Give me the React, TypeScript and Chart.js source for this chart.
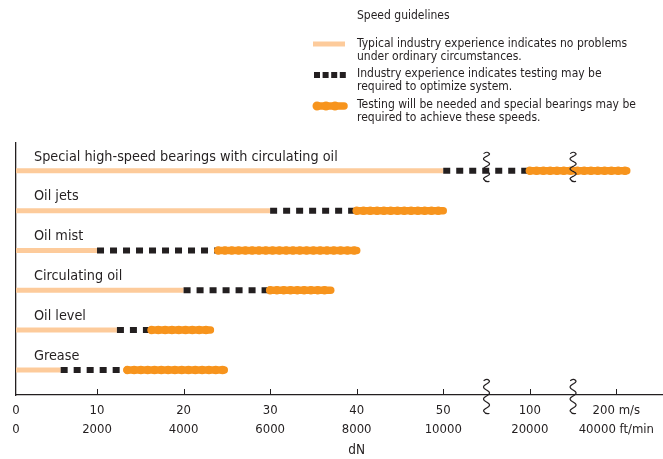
import { useEffect, useRef } from 'react';
import { Chart, registerables } from 'chart.js';

Chart.register(...registerables);

const FONT = "'Liberation Sans Narrow', 'DejaVu Sans Condensed', 'Liberation Sans', Arial, sans-serif";
const INK = '#231F20';
const PEACH = '#FDCB9B';
const ORANGE = '#F7941D';

// Rows from bottom to top
const categories = [
  'Grease',
  'Oil level',
  'Circulating oil',
  'Oil mist',
  'Oil jets',
  'Special high-speed bearings with circulating oil',
];
// Speed limits in m/s (dN scale)
const typicalLimit = [5.8, 12.3, 20, 10, 30, 50];
const testingLimit = [13.5, 16.3, 30, 24, 40, 100];
const specialLimit = [24.7, 23.1, 37, 40, 50, 212];

const msTickValues = [0, 10, 20, 30, 40, 50, 100, 200];
const msTickLabels = ['0', '10', '20', '30', '40', '50', '100', '200 m/s'];
const ftTickLabels = ['0', '2000', '4000', '6000', '8000', '10000', '20000', '40000 ft/min'];
const axisBreaks = [75, 150];

const legendTitle = 'Speed guidelines';
const legendTexts = [
  ['Typical industry experience indicates no problems', 'under ordinary circumstances.'],
  ['Industry experience indicates testing may be', 'required to optimize system.'],
  ['Testing will be needed and special bearings may be', 'required to achieve these speeds.'],
];
const axisTitle = 'dN';

// broken axis: 0-50 linear, 50-100 one step, 100-200 one step
function axisPos(v: number): number {
  if (v <= 50) return v / 10;
  if (v <= 100) return 5 + (v - 50) / 50;
  return 6 + (v - 100) / 100;
}

const X_MIN = 0.064;
const X_MAX = 7.539;
const Y_MIN = 0.37;
const Y_MAX = 6.7;
const LABEL_OFFSET = 0.35;

function squiggle(ctx: CanvasRenderingContext2D, x: number, y0: number, y1: number) {
  ctx.save();
  ctx.strokeStyle = INK;
  ctx.lineWidth = 1.2;
  ctx.lineJoin = 'round';
  ctx.lineCap = 'round';
  ctx.beginPath();
  ctx.moveTo(x - 2.5, y0 + 1.5);
  ctx.quadraticCurveTo(x + 1, y0 - 1, x + 3, y0 + 2);
  const L = y1 - y0 - 4;
  const steps = 60;
  for (let i = 0; i <= steps; i++) {
    const t = i / steps;
    const yy = y0 + 2 + t * L;
    const xx = x + 3 * Math.cos(t * Math.PI * 2 * 2.5);
    ctx.lineTo(xx, yy);
  }
  ctx.quadraticCurveTo(x - 1, y1 + 1.5, x + 2.5, y1 + 0.5);
  ctx.stroke();
  ctx.restore();
}

const decorPlugin = {
  id: 'decor',
  afterDraw(chart: any) {
    const ctx: CanvasRenderingContext2D = chart.ctx;
    const xs = chart.scales.x;
    const ys = chart.scales.y;
    const area = chart.chartArea;
    ctx.save();
    // inward tick marks
    ctx.strokeStyle = INK;
    ctx.lineWidth = 1;
    msTickValues.slice(1).forEach((v) => {
      const px = Math.round(xs.getPixelForValue(axisPos(v))) + 0.5;
      ctx.beginPath();
      ctx.moveTo(px, area.bottom - 6);
      ctx.lineTo(px, area.bottom);
      ctx.stroke();
    });
    // axis breaks
    const topRow = ys.getPixelForValue(categories.length);
    axisBreaks.forEach((b) => {
      const px = xs.getPixelForValue(axisPos(b));
      squiggle(ctx, px, area.bottom - 16, area.bottom + 18);
      squiggle(ctx, px, topRow - 19, topRow + 10);
    });
    // axis title
    ctx.fillStyle = INK;
    ctx.font = `13.5px ${FONT}`;
    ctx.textAlign = 'center';
    ctx.textBaseline = 'middle';
    ctx.fillText(axisTitle, xs.getPixelForValue(4), 450);

    // legend
    ctx.textAlign = 'left';
    ctx.font = `12px ${FONT}`;
    ctx.fillText(legendTitle, 357, 16);
    const rowsY = [44, 74, 105];
    legendTexts.forEach((lines, i) => {
      lines.forEach((ln, j) => ctx.fillText(ln, 357, rowsY[i] + j * 13));
    });
    // swatch 1
    ctx.lineCap = 'butt';
    ctx.strokeStyle = PEACH;
    ctx.lineWidth = 5;
    ctx.beginPath();
    ctx.moveTo(313, 44);
    ctx.lineTo(345, 44);
    ctx.stroke();
    // swatch 2
    ctx.strokeStyle = INK;
    ctx.lineWidth = 6;
    ctx.setLineDash([6, 2.6]);
    ctx.beginPath();
    ctx.moveTo(314, 75);
    ctx.lineTo(346, 75);
    ctx.stroke();
    // swatch 3
    ctx.setLineDash([]);
    ctx.strokeStyle = ORANGE;
    ctx.lineCap = 'round';
    ctx.lineWidth = 7.5;
    ctx.beginPath();
    ctx.moveTo(317, 106);
    ctx.lineTo(344, 106);
    ctx.stroke();
    ctx.lineWidth = 9;
    ctx.setLineDash([0, 9]);
    ctx.beginPath();
    ctx.moveTo(317, 106);
    ctx.lineTo(344, 106);
    ctx.stroke();
    ctx.restore();
  },
};

export default function App() {
  const ref = useRef<HTMLCanvasElement>(null);
  useEffect(() => {
    const canvas = ref.current;
    if (!canvas) return;
    const datasets: any[] = [];
    const common = { pointRadius: 0, pointHoverRadius: 0, fill: false, tension: 0, clip: 0 };
    categories.forEach((cat, i) => {
      const y = i + 1;
      const seg = (s: number, e: number) => [
        { x: axisPos(s), y },
        { x: axisPos(e), y },
      ];
      datasets.push({ ...common, label: cat, data: seg(0, typicalLimit[i]), borderColor: PEACH, borderWidth: 5, borderCapStyle: 'butt', order: 3 });
      datasets.push({ ...common, label: cat, data: seg(typicalLimit[i], testingLimit[i]), borderColor: INK, borderWidth: 6, borderDash: [7, 6], borderCapStyle: 'butt', order: 2 });
      datasets.push({ ...common, label: cat, data: seg(testingLimit[i], specialLimit[i]), borderColor: ORANGE, borderWidth: 7.5, borderCapStyle: 'round', order: 1 });
      datasets.push({ ...common, label: cat, data: seg(testingLimit[i], specialLimit[i]), borderColor: ORANGE, borderWidth: 8.5, borderDash: [0, 6.8], borderCapStyle: 'round', order: 0 });
    });

    const chart = new Chart(canvas, {
      type: 'line',
      data: { datasets },
      options: {
        animation: false,
        responsive: false,
        events: [],
        layout: { padding: { top: 143, left: 0, right: 0, bottom: 0 } },
        plugins: { legend: { display: false }, tooltip: { enabled: false } },
        scales: {
          x: {
            type: 'linear',
            min: X_MIN,
            max: X_MAX,
            afterBuildTicks: (s: any) => {
              s.ticks = msTickValues.map((v) => ({ value: v === 0 ? X_MIN : axisPos(v) }));
            },
            afterFit: (s: any) => {
              s.height = 64;
            },
            grid: { display: false },
            border: { display: true, color: INK, width: 1.3 },
            ticks: {
              autoSkip: false,
              maxRotation: 0,
              padding: -2,
              color: INK,
              font: { family: FONT, size: 13, lineHeight: 19 / 13 },
              callback: (_v: any, idx: number) => [msTickLabels[idx], ftTickLabels[idx]],
            },
          },
          y: {
            type: 'linear',
            min: Y_MIN,
            max: Y_MAX,
            afterBuildTicks: (s: any) => {
              s.ticks = categories.map((_, i) => ({ value: i + 1 + LABEL_OFFSET }));
            },
            afterFit: (s: any) => {
              s.width = 16;
            },
            grid: { display: false },
            border: { display: true, color: INK, width: 1.3 },
            ticks: {
              mirror: true,
              padding: 18,
              autoSkip: false,
              color: INK,
              font: { family: FONT, size: 14.3 },
              callback: (_v: any, idx: number) => categories[idx],
            },
          },
        },
      } as any,
      plugins: [decorPlugin],
    });
    return () => chart.destroy();
  }, []);

  return (
    <div style={{ position: 'absolute', left: 0, top: 0, width: 663, height: 459, background: '#fff' }}>
      <canvas ref={ref} width={663} height={459} style={{ display: 'block' }} />
    </div>
  );
}
